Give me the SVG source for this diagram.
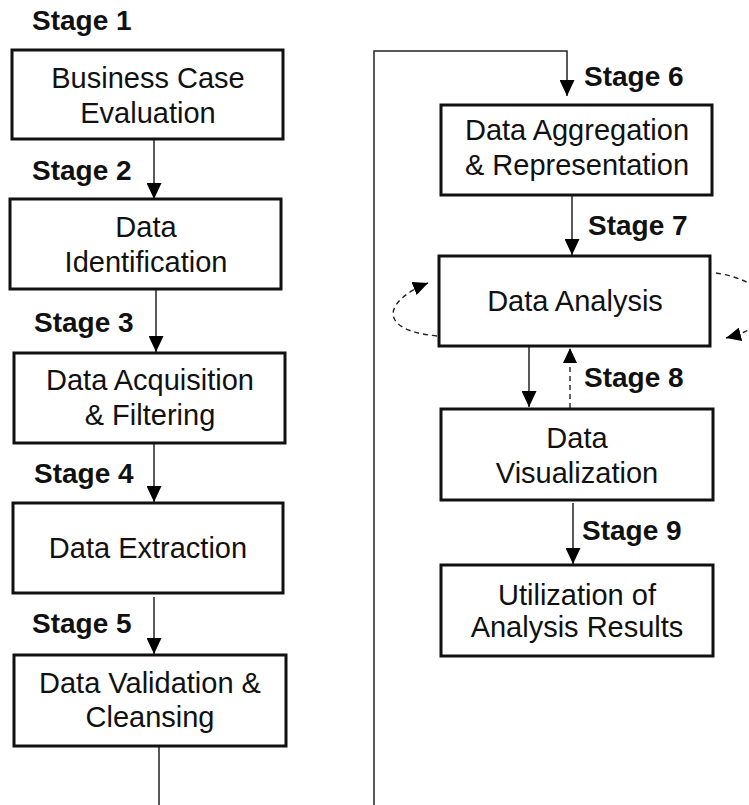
<svg xmlns="http://www.w3.org/2000/svg" width="749" height="805" viewBox="0 0 749 805">
  <style>
    .box { fill: #ffffff; stroke: #111111; stroke-width: 3; }
    .label { font-family: "Liberation Sans", Arial, sans-serif; font-size: 29px; fill: #111111; text-anchor: middle; }
    .stage { font-family: "Liberation Sans", Arial, sans-serif; font-size: 28px; font-weight: bold; fill: #111111; }
    .link { fill: none; stroke: #222222; stroke-width: 1.5; }
    .dash { fill: none; stroke: #222222; stroke-width: 1.4; stroke-dasharray: 5 4; }
  </style>
  <defs>
    <marker id="head" markerUnits="userSpaceOnUse" markerWidth="16" markerHeight="15" refX="16" refY="7.5" orient="auto">
      <path d="M0,0 L16,7.5 L0,15 z" fill="#000000"/>
    </marker>
    <marker id="headSmall" markerUnits="userSpaceOnUse" markerWidth="15" markerHeight="14" refX="15" refY="7" orient="auto">
      <path d="M0,0 L15,7 L0,14 z" fill="#000000"/>
    </marker>
  </defs>

  <rect width="749" height="805" fill="#ffffff"/>

  <!-- connectors -->
  <g id="connectors">
    <line class="link" x1="154" y1="140" x2="154" y2="199" marker-end="url(#head)"/>
    <line class="link" x1="156" y1="290" x2="156" y2="352" marker-end="url(#head)"/>
    <line class="link" x1="154" y1="444" x2="154" y2="502" marker-end="url(#head)"/>
    <line class="link" x1="154" y1="597" x2="154" y2="654" marker-end="url(#head)"/>
    <!-- hand-off from stage 5 to stage 6 -->
    <line class="link" x1="159" y1="747" x2="159" y2="805"/>
    <polyline class="link" points="374,805 374,51 567,51 567,96" marker-end="url(#head)"/>
    <line class="link" x1="572" y1="196" x2="572" y2="255" marker-end="url(#head)"/>
    <line class="link" x1="529" y1="347" x2="529" y2="407" marker-end="url(#head)"/>
    <line class="dash" x1="570" y1="408" x2="570" y2="348" marker-end="url(#headSmall)"/>
    <line class="link" x1="573" y1="503" x2="573" y2="564" marker-end="url(#head)"/>
    <!-- iteration loops around Data Analysis -->
    <path class="dash" d="M437,336 C375,330 385,300 428,283" marker-end="url(#headSmall)"/>
    <path class="dash" d="M716,273 C775,282 790,322 726,338" marker-end="url(#headSmall)"/>
  </g>

  <!-- stage labels -->
  <g id="stage-labels">
    <text class="stage" x="32" y="30">Stage 1</text>
    <text class="stage" x="32" y="180">Stage 2</text>
    <text class="stage" x="34" y="332">Stage 3</text>
    <text class="stage" x="34" y="483">Stage 4</text>
    <text class="stage" x="32" y="633">Stage 5</text>
    <text class="stage" x="584" y="86">Stage 6</text>
    <text class="stage" x="588" y="235">Stage 7</text>
    <text class="stage" x="584" y="387">Stage 8</text>
    <text class="stage" x="582" y="540">Stage 9</text>
  </g>

  <g id="business-case-evaluation">
    <rect class="box" x="12" y="50" width="271" height="89"/>
    <text class="label" x="148" y="88">Business Case</text>
    <text class="label" x="148" y="123">Evaluation</text>
  </g>

  <g id="data-identification">
    <rect class="box" x="10" y="199" width="271" height="90"/>
    <text class="label" x="146" y="237">Data</text>
    <text class="label" x="146" y="272">Identification</text>
  </g>

  <g id="data-acquisition-filtering">
    <rect class="box" x="14" y="353" width="271" height="90"/>
    <text class="label" x="150" y="390">Data Acquisition</text>
    <text class="label" x="150" y="425">&amp; Filtering</text>
  </g>

  <g id="data-extraction">
    <rect class="box" x="13" y="503" width="270" height="90"/>
    <text class="label" x="148" y="558">Data Extraction</text>
  </g>

  <g id="data-validation-cleansing">
    <rect class="box" x="14" y="655" width="272" height="91"/>
    <text class="label" x="150" y="693">Data Validation &amp;</text>
    <text class="label" x="150" y="727">Cleansing</text>
  </g>

  <g id="data-aggregation-representation">
    <rect class="box" x="441" y="105" width="271" height="90"/>
    <text class="label" x="577" y="140">Data Aggregation</text>
    <text class="label" x="577" y="175">&amp; Representation</text>
  </g>

  <g id="data-analysis">
    <rect class="box" x="439" y="256" width="271" height="90"/>
    <text class="label" x="575" y="311">Data Analysis</text>
  </g>

  <g id="data-visualization">
    <rect class="box" x="441" y="409" width="272" height="91"/>
    <text class="label" x="577" y="448">Data</text>
    <text class="label" x="577" y="483">Visualization</text>
  </g>

  <g id="utilization-of-analysis-results">
    <rect class="box" x="441" y="565" width="272" height="91"/>
    <text class="label" x="577" y="605">Utilization of</text>
    <text class="label" x="577" y="637">Analysis Results</text>
  </g>
</svg>
